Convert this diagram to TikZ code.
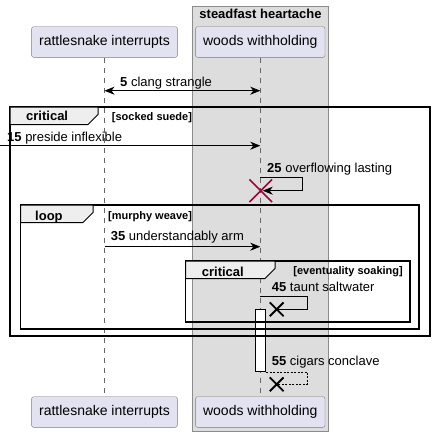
\documentclass[tikz,border=0pt]{standalone}
\usepackage{fontspec}
\setmainfont{Liberation Sans}
\usepackage{tikz}
\usetikzlibrary{arrows.meta,shapes.misc}
\definecolor{partfill}{HTML}{E2E2F0}
\definecolor{partline}{HTML}{7A7A7A}
\definecolor{boxfill}{HTML}{DDDDDD}
\definecolor{boxline}{HTML}{8C8C8C}
\definecolor{tabfill}{HTML}{EEEEEE}
\definecolor{killred}{HTML}{A80036}
\tikzset{
  ppart/.style={draw=partline,fill=partfill,rounded corners=2pt,inner xsep=7.5pt,minimum height=30.6pt,font=\fontsize{14}{16}\selectfont},
  pboxarea/.style={draw=boxline,fill=boxfill,line width=0.8pt},
  ptitle/.style={anchor=base,inner sep=0pt,font=\bfseries\fontsize{13}{15}\selectfont},
  plife/.style={draw=gray!80!black,line width=0.7pt,dash pattern=on 5pt off 5pt},
  pmsg/.style={draw=black,line width=0.9pt},
  parr/.style={pmsg,-{Stealth[length=10pt,width=8pt,inset=3pt]}},
  pboth/.style={pmsg,{Stealth[length=10pt,width=8pt,inset=3pt]}-{Stealth[length=10pt,width=8pt,inset=3pt]}},
  pdot/.style={pmsg,line width=0.7pt,dash pattern=on 2pt off 1.5pt},
  plabel/.style={anchor=base west,inner sep=0pt,font=\fontsize{13}{15}\selectfont},
  pkill/.style={cross out,draw=black,line width=1.8pt,inner sep=0pt,minimum size=12pt},
  pact/.style={draw=black,fill=white,line width=0.9pt,minimum width=10pt,minimum height=62.2pt,inner sep=0pt},
  pframe/.style={draw=black,line width=1.5pt},
  ptab/.style={draw=black,fill=tabfill,line width=1pt},
  pkind/.style={anchor=base west,inner sep=0pt,font=\bfseries\fontsize{13}{15}\selectfont},
  pguard/.style={anchor=base west,inner sep=0pt,font=\bfseries\fontsize{11}{13}\selectfont}
}

\begin{document}
\begin{tikzpicture}[x=1pt,y=-1pt]
  \useasboundingbox (0,0) rectangle (434,437);
  % box
  \draw[pboxarea] (192.7,6) rectangle (328.3,431.7);
  \node[ptitle] (boxtitle) at (260.5,18.3) {steadfast heartache};
  % participants
  \foreach \nm/\y in {top/42,bot/412}{
    \node[ppart] (r\nm) at (104.5,\y) {rattlesnake interrupts};
    \node[ppart] (w\nm) at (260.3,\y) {woods withholding};
  }
  \draw[plife] (rtop) -- (rbot);
  \draw[plife] (wtop) -- (wbot);
  % messages
  \coordinate (r5) at (104.5,90.7);
  \coordinate (w5) at (260.3,90.7);
  \draw[pboth] (r5) -- (w5);
  \node[plabel] (l5) at (120,86) {\textbf{5} clang strangle};
  \coordinate (in15) at (0,145.7);
  \coordinate (w15) at (260.3,145.7);
  \draw[parr] (in15) -- (w15);
  \node[plabel] (l15) at (7,141.7) {\textbf{15} preside inflexible};
  \coordinate (w25) at (260.3,177);
  \coordinate (x25) at (260.7,190.7);
  \draw[parr] (w25) -- ++(42,0) |- ([xshift=2pt]x25);
  \node[pkill,draw=killred,line width=1.6pt,minimum size=21pt] (k25) at (x25) {};
  \node[plabel] (l25) at (267,172.7) {\textbf{25} overflowing lasting};
  \coordinate (r35) at (104.5,246.7);
  \coordinate (w35) at (260.3,246.7);
  \draw[parr] (r35) -- (w35);
  \node[plabel] (l35) at (110.7,240.7) {\textbf{35} understandably arm};
  \coordinate (w45) at (260.3,296.7);
  \node[pkill] (k45) at (276.7,309.3) {};
  \draw[pmsg] (w45) -- ++(46.7,0) |- (k45.center);
  \node[plabel] (l45) at (271.7,291.7) {\textbf{45} taunt saltwater};
  % activation
  \node[pact] (act) at (260.7,340.6) {};
  \node[pkill] (k55) at (276.7,384.3) {};
  \draw[pdot] (act.south east) -- ++(41.3,0) |- (k55.center);
  \node[plabel] (l55) at (271.7,365) {\textbf{55} cigars conclave};
  % groups
  \foreach \xa/\ya/\xb/\yb/\tw in {10/107/430/336/88,20.7/205/419/329/72.3,185.7/261/410/322/89.3}{
    \draw[pframe] (\xa,\ya) rectangle (\xb,\yb);
    \draw[ptab] (\xa,\ya) -- ++(\tw,0) -- ++(0,7.5) -- ++(-10,10) -- (\xa,\ya+17.5) -- cycle;
  }
  \node[pkind] (g1) at (26,120.7) {critical};
  \node[pguard] (g1c) at (111.7,120.7) {[socked suede]};
  \node[pkind] (g2) at (35,220) {loop};
  \node[pguard] (g2c) at (108,219) {[murphy weave]};
  \node[pkind] (g3) at (201.7,276) {critical};
  \node[pguard,anchor=base east] (g3c) at (403,274) {[eventuality soaking]};
\end{tikzpicture}
\end{document}
